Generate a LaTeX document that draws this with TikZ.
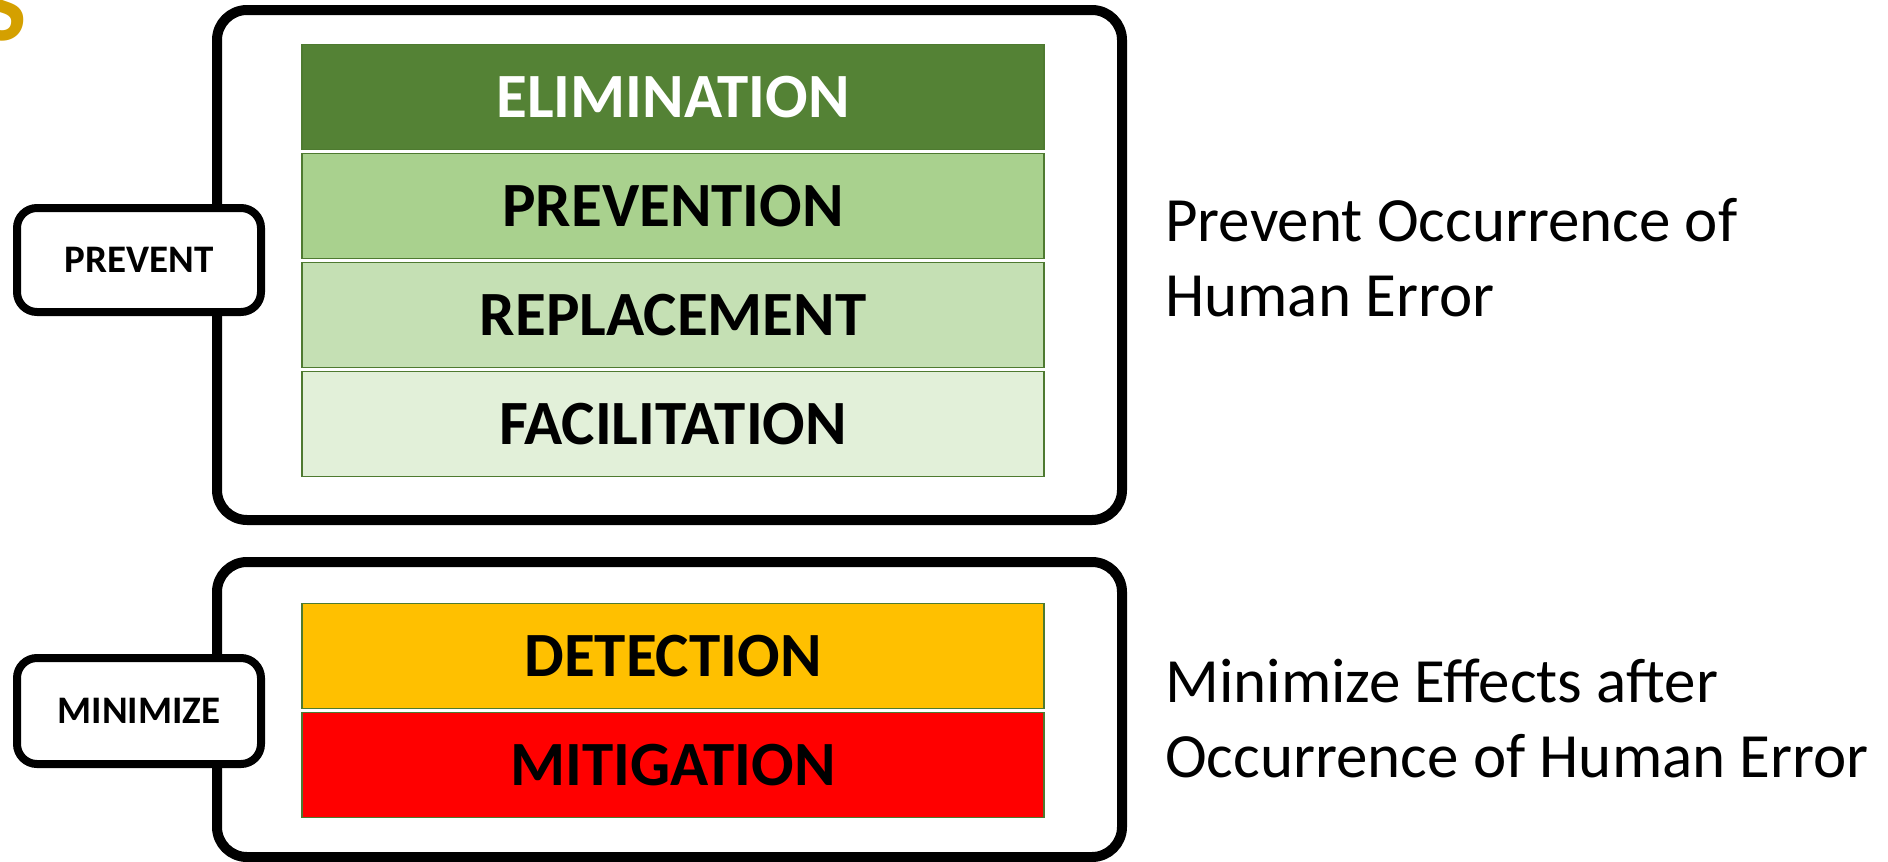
\documentclass[tikz,border=0pt]{standalone}
\usepackage{fontspec}
\setmainfont{Carlito}
\definecolor{elimc}{HTML}{548235}
\definecolor{prevc}{HTML}{A9D18E}
\definecolor{replc}{HTML}{C5E0B4}
\definecolor{facic}{HTML}{E2F0D9}
\definecolor{detc}{HTML}{FFC000}
\definecolor{mitc}{HTML}{FF0000}
\definecolor{barline}{HTML}{4E7A30}
\definecolor{goldc}{HTML}{D4A000}
\tikzset{
  groupbox/.style={draw=black, line width=10pt, rounded corners=30pt, minimum width=905pt, inner sep=0pt},
  bar/.style={draw=barline, line width=1.5pt, minimum width=742pt, minimum height=105pt, inner sep=0pt,
    font=\fontsize{63}{70}\selectfont\bfseries},
  tagbox/.style={draw=black, fill=white, line width=8pt, rounded corners=20pt, minimum width=244pt,
    minimum height=104pt, inner sep=0pt, font=\fontsize{39}{45}\selectfont\bfseries},
  note/.style={anchor=base west, inner sep=0pt, font=\fontsize{63}{76}\selectfont}
}
\begin{document}
\begin{tikzpicture}[x=1pt,y=-1pt]
\useasboundingbox (0,0) rectangle (1888,862);
% partial title letter
\node[anchor=base east, inner sep=0pt, text=goldc, font=\fontsize{100}{110}\selectfont\bfseries] (ttl) at (27,40) {S};
% group boxes
\node[groupbox, minimum height=510pt] (g1) at (669.5,265) {};
\node[groupbox, minimum height=295pt] (g2) at (669.5,709.5) {};
% bars
\node[bar, fill=elimc, text=white] (elim) at (673,97) {ELIMINATION};
\node[bar, fill=prevc] (prev) at (673,206) {PREVENTION};
\node[bar, fill=replc] (repl) at (673,315) {REPLACEMENT};
\node[bar, fill=facic] (faci) at (673,424) {FACILITATION};
\node[bar, fill=detc] (det) at (673,656) {DETECTION};
\node[bar, fill=mitc] (mit) at (673,765) {MITIGATION};
% tags
\node[tagbox] (tprev) at (139,260) {PREVENT};
\node[tagbox, minimum height=106pt] (tmin) at (139,711) {MINIMIZE};
% notes
\node[note] (n1a) at (1165,241) {Prevent Occurrence of};
\node[note] (n1b) at (1165,316) {Human Error};
\node[note] (n2a) at (1165,702) {Minimize Effects after};
\node[note] (n2b) at (1165,777) {Occurrence of Human Error};
\end{tikzpicture}
\end{document}
